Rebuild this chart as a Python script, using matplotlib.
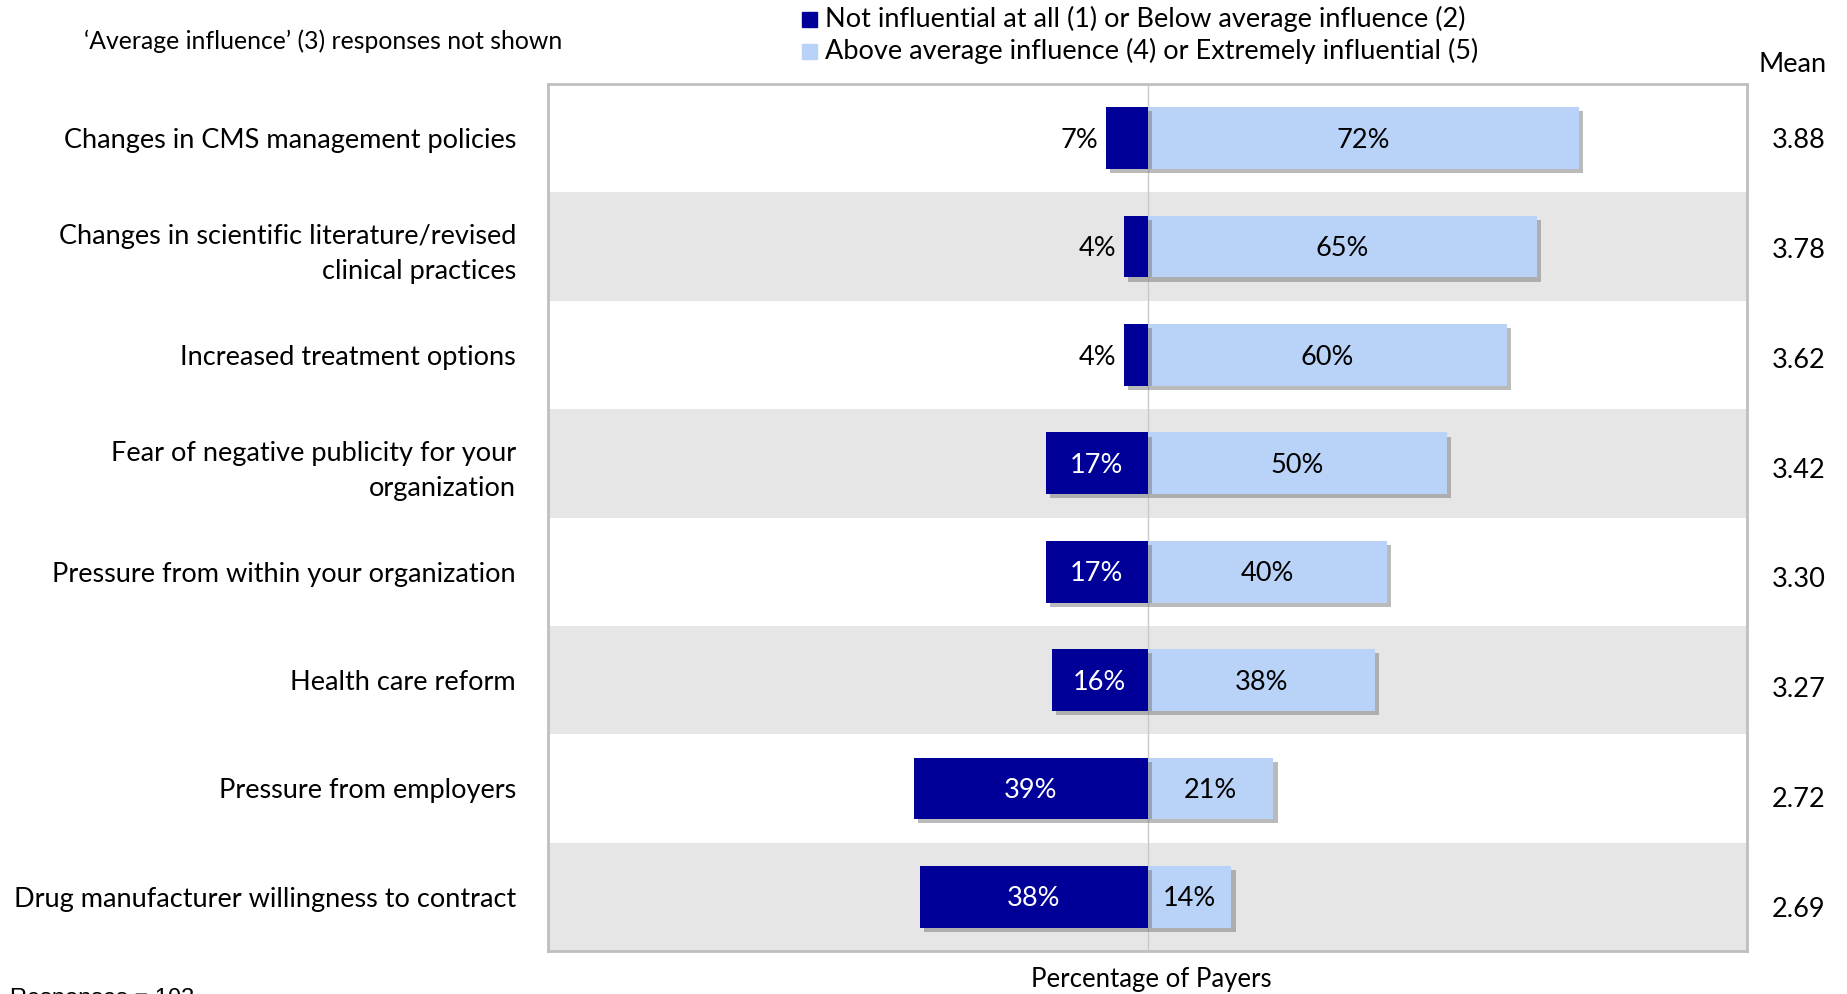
import matplotlib
matplotlib.use("Agg")
import matplotlib.pyplot as plt
import matplotlib.patheffects as pe
import numpy as np

categories = ["Changes in CMS management policies",
              "Changes in scientific literature/revised\nclinical practices",
              "Increased treatment options",
              "Fear of negative publicity for your\norganization",
              "Pressure from within your organization",
              "Health care reform",
              "Pressure from employers",
              "Drug manufacturer willingness to contract"]
low = [7, 4, 4, 17, 17, 16, 39, 38]
high = [72, 65, 60, 50, 40, 38, 21, 14]
means = ["3.88", "3.78", "3.62", "3.42", "3.30", "3.27", "2.72", "2.69"]

dark = "#000099"
light = "#B9D3F8"
plt.rcParams['font.family'] = ['Lato', 'DejaVu Sans']
fs = 19.5

fig = plt.figure(figsize=(18.47, 9.94), dpi=100)
ax = fig.add_axes([548/1847, 1 - 951/994, (1747-548)/1847, (951-84)/994])

n = len(categories)
y = np.arange(n)
ax.set_xlim(-100, 100)
ax.set_ylim(n - 0.5, -0.5)

# alternating bands
for i in range(n):
    if i % 2 == 1:
        ax.axhspan(i - 0.5, i + 0.5, color="#E6E6E6", zorder=0, lw=0)
ax.axvline(0, color="#C8C8C8", lw=1, zorder=1)

shadow = [pe.SimplePatchShadow(offset=(3, -3), shadow_rgbFace="#777777", alpha=0.5), pe.Normal()]
b1 = ax.barh(y, [-v for v in low], height=0.57, color=dark, zorder=3)
b2 = ax.barh(y, high, height=0.57, color=light, zorder=2)
for b in list(b1) + list(b2):
    b.set_path_effects(shadow)

for i in range(n):
    yy = i + 0.02
    if low[i] < 10:
        ax.text(-low[i] - 1.2, yy, f"{low[i]}%", ha="right", va="center", fontsize=fs, color="black", zorder=5)
    else:
        ax.text(-low[i] / 2, yy, f"{low[i]}%", ha="center", va="center", fontsize=fs, color="white", zorder=5)
    ax.text(high[i] / 2, yy, f"{high[i]}%", ha="center", va="center", fontsize=fs, color="black", zorder=5)
    ax.text(1.043, i + 0.02 + 0.014 * i, means[i], transform=ax.get_yaxis_transform(),
            ha="center", va="center", fontsize=fs)

ax.set_yticks(y)
ax.set_yticklabels(categories, fontsize=fs, linespacing=1.5)
ax.tick_params(axis="y", length=0, pad=23)
ax.set_xticks([])
for s in ax.spines.values():
    s.set_color("#BFBFBF")
    s.set_linewidth(2)

fig.text(1793/1847, 1 - 65/994, "Mean", ha="center", va="center", fontsize=fs)
fig.text(323/1847, 1 - 41/994, "\u2018Average influence\u2019 (3) responses not shown",
         ha="center", va="center", fontsize=17.8)
fig.text(1151/1847, 1 - 980/994, "Percentage of Payers", ha="center", va="center", fontsize=18.5)
fig.text(10/1847, 1 - 988/994, "Responses = 103", ha="left", va="top", fontsize=17,
         family=["Liberation Sans"])

# legend
fig.patches.append(plt.Rectangle((802/1847, 1 - 27/994), 15/1847, 15/994, transform=fig.transFigure,
                                 color=dark, figure=fig))
fig.patches.append(plt.Rectangle((802/1847, 1 - 59/994), 15/1847, 15/994, transform=fig.transFigure,
                                 color=light, figure=fig))
fig.text(825/1847, 1 - 19/994, "Not influential at all (1) or Below average influence (2)",
         ha="left", va="center", fontsize=fs)
fig.text(825/1847, 1 - 51/994, "Above average influence (4) or Extremely influential (5)",
         ha="left", va="center", fontsize=fs)

fig.savefig("out.png", dpi=100)
